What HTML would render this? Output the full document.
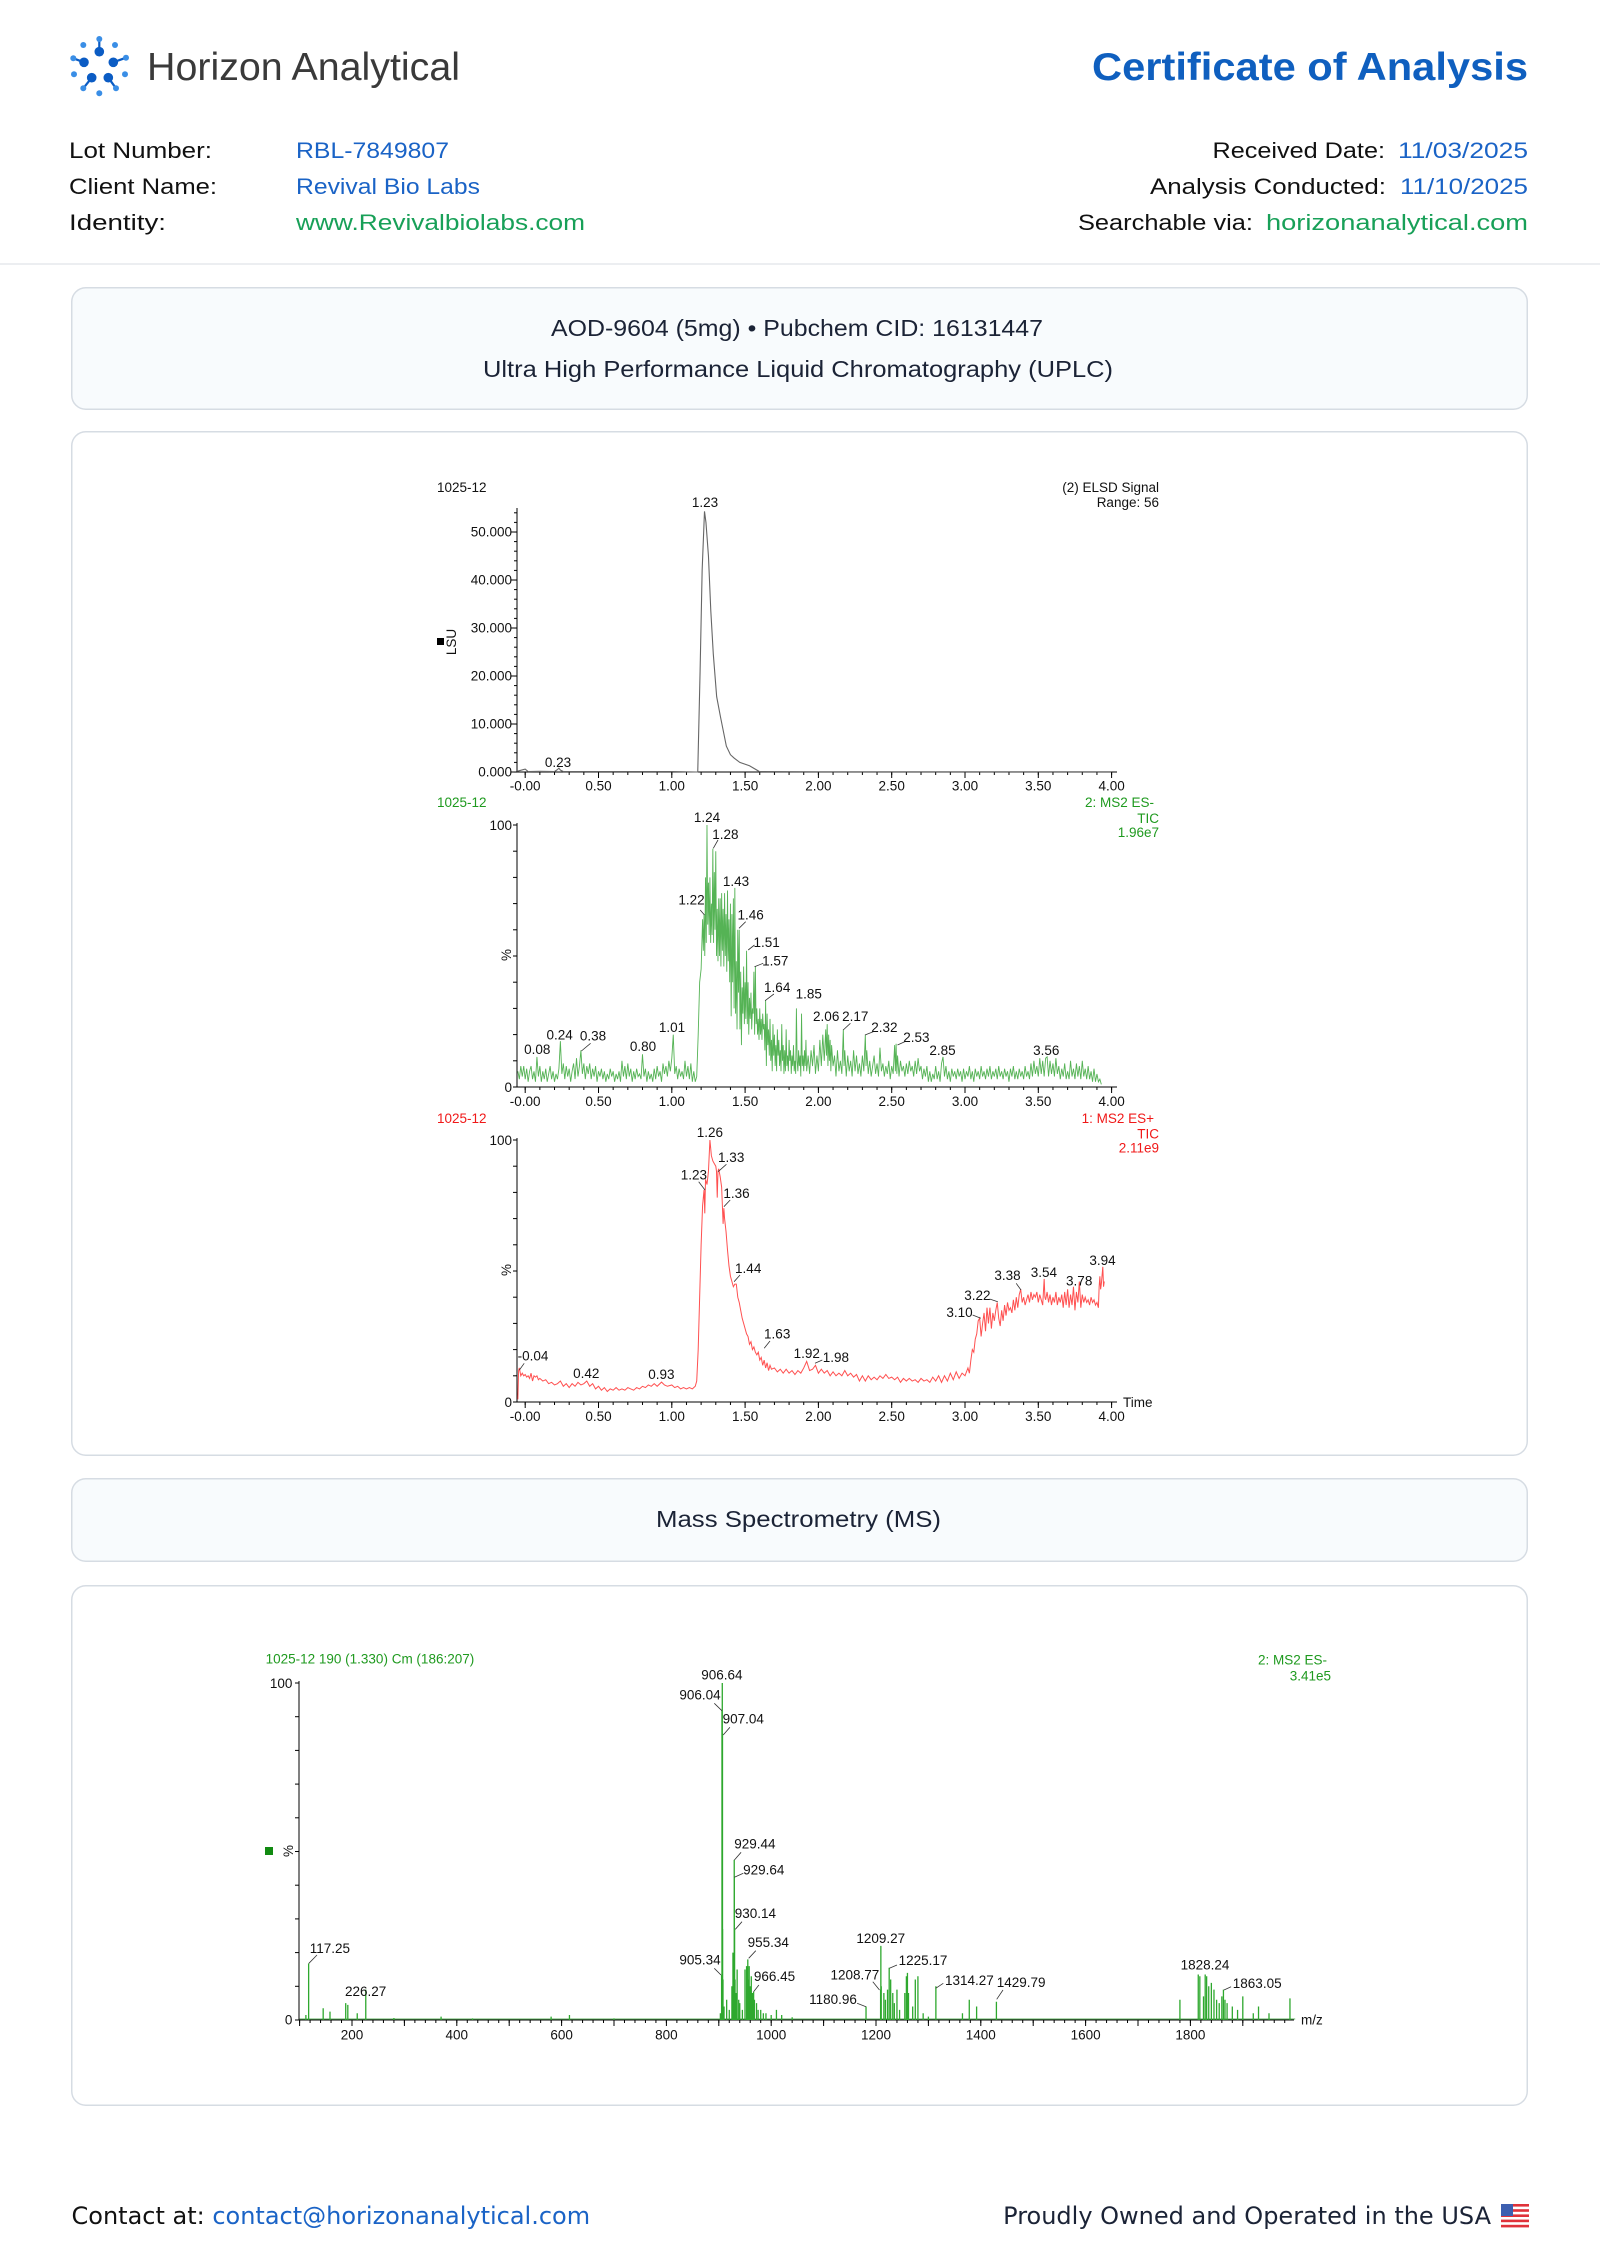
<!DOCTYPE html>
<html><head><meta charset="utf-8"><style>
html,body{margin:0;padding:0;background:#fff;}
body{width:1600px;height:2260px;overflow:hidden;position:relative;}
svg{position:absolute;left:0;top:0;}
.c{font-family:"Liberation Sans",Arial,sans-serif;font-size:13.5px;fill:#111;}
.g{fill:#1f9a1f;}
.r{fill:#f01818;}
</style></head><body>
<svg width="1600" height="2260" viewBox="0 0 1600 2260" xmlns="http://www.w3.org/2000/svg">
<defs>
<pattern id="cxm" x="524.7" y="0" width="14.66" height="10" patternUnits="userSpaceOnUse"><rect width="1" height="10" fill="#000"/></pattern>
<pattern id="cxM" x="524.7" y="0" width="73.3" height="10" patternUnits="userSpaceOnUse"><rect width="1" height="10" fill="#000"/></pattern>
<pattern id="ey" x="0" y="771.5" width="10" height="9.6" patternUnits="userSpaceOnUse"><rect width="10" height="1" fill="#000"/></pattern>
<pattern id="eyM" x="0" y="771.5" width="10" height="48" patternUnits="userSpaceOnUse"><rect width="10" height="1" fill="#000"/></pattern>
<pattern id="gy" x="0" y="1086.5" width="10" height="26.2" patternUnits="userSpaceOnUse"><rect width="10" height="1" fill="#000"/></pattern>
<pattern id="ry" x="0" y="1401.5" width="10" height="26.2" patternUnits="userSpaceOnUse"><rect width="10" height="1" fill="#000"/></pattern>
<pattern id="msx" x="299.1" y="0" width="10.48" height="10" patternUnits="userSpaceOnUse"><rect width="1" height="10" fill="#000"/></pattern>
<pattern id="msX" x="299.1" y="0" width="52.4" height="10" patternUnits="userSpaceOnUse"><rect width="1" height="10" fill="#000"/></pattern>
<pattern id="msy" x="0" y="2019.5" width="10" height="33.7" patternUnits="userSpaceOnUse"><rect width="10" height="1" fill="#000"/></pattern>
</defs>

<!-- ===== HEADER ===== -->
<g stroke="#0b5cc4" stroke-width="2.2">
<line x1="99.3" y1="39" x2="99.3" y2="51.7"/>
<line x1="73.3" y1="58.3" x2="84" y2="62.3"/>
<line x1="113.3" y1="62.3" x2="126" y2="57.7"/>
<line x1="91.7" y1="77.7" x2="83.3" y2="88.3"/>
<line x1="108.3" y1="77.7" x2="116" y2="88.3"/>
</g>
<g fill="#0b5cc4">
<circle cx="99.3" cy="51.7" r="4.8"/><circle cx="84" cy="62.3" r="4.8"/><circle cx="113.3" cy="62.3" r="4.8"/><circle cx="91.7" cy="77.7" r="4.8"/><circle cx="108.3" cy="77.7" r="4.8"/>
</g>
<g fill="#3a8ee6">
<circle cx="99.3" cy="39" r="3"/><circle cx="83.3" cy="45" r="3"/><circle cx="115" cy="45" r="3"/><circle cx="73.3" cy="58.3" r="3"/><circle cx="126" cy="57.7" r="3"/><circle cx="74" cy="74.3" r="3"/><circle cx="125" cy="74.3" r="3"/><circle cx="83.3" cy="88.3" r="3"/><circle cx="116" cy="88.3" r="3"/><circle cx="99.3" cy="93.3" r="3"/>
</g>
<text x="147" y="80" font-family="'Liberation Sans',Arial,sans-serif" font-size="39" fill="#3a3a3a" textLength="313" lengthAdjust="spacingAndGlyphs">Horizon Analytical</text>
<text x="1092" y="80" font-family="'Liberation Sans',Arial,sans-serif" font-size="39" font-weight="bold" fill="#0f5fbf" textLength="436" lengthAdjust="spacingAndGlyphs">Certificate of Analysis</text>

<g font-family="'Liberation Sans',Arial,sans-serif" font-size="22.5">
<text x="69" y="158" fill="#111" textLength="143" lengthAdjust="spacingAndGlyphs">Lot Number:</text>
<text x="296" y="158" fill="#1a63c6" textLength="153" lengthAdjust="spacingAndGlyphs">RBL-7849807</text>
<text x="69" y="194" fill="#111" textLength="148" lengthAdjust="spacingAndGlyphs">Client Name:</text>
<text x="296" y="194" fill="#1a63c6" textLength="184" lengthAdjust="spacingAndGlyphs">Revival Bio Labs</text>
<text x="69" y="230" fill="#111" textLength="97" lengthAdjust="spacingAndGlyphs">Identity:</text>
<text x="296" y="230" fill="#18a058" textLength="289" lengthAdjust="spacingAndGlyphs">www.Revivalbiolabs.com</text>
<text x="1212.5" y="158" fill="#111" textLength="172.5" lengthAdjust="spacingAndGlyphs">Received Date:</text>
<text x="1398" y="158" fill="#1a63c6" textLength="130" lengthAdjust="spacingAndGlyphs">11/03/2025</text>
<text x="1150" y="194" fill="#111" textLength="236" lengthAdjust="spacingAndGlyphs">Analysis Conducted:</text>
<text x="1400" y="194" fill="#1a63c6" textLength="128" lengthAdjust="spacingAndGlyphs">11/10/2025</text>
<text x="1078" y="230" fill="#111" textLength="175" lengthAdjust="spacingAndGlyphs">Searchable via:</text>
<text x="1266" y="230" fill="#18a058" textLength="262" lengthAdjust="spacingAndGlyphs">horizonanalytical.com</text>
</g>
<rect x="0" y="263" width="1600" height="2" fill="#eceef1"/>

<!-- ===== BOXES ===== -->
<rect x="71.75" y="287.75" width="1455.5" height="121.5" rx="14" fill="#f8fbfd" stroke="#d6dce3" stroke-width="1.5"/>
<g font-family="'Liberation Sans',Arial,sans-serif" font-size="23.5" fill="#1b2336">
<text x="551" y="336" textLength="492" lengthAdjust="spacingAndGlyphs">AOD-9604 (5mg) • Pubchem CID: 16131447</text>
<text x="483" y="377" textLength="630" lengthAdjust="spacingAndGlyphs">Ultra High Performance Liquid Chromatography (UPLC)</text>
</g>
<rect x="71.75" y="431.75" width="1455.5" height="1023.5" rx="14" fill="#fff" stroke="#d6dce3" stroke-width="1.5"/>
<rect x="71.75" y="1478.75" width="1455.5" height="82.5" rx="14" fill="#f8fbfd" stroke="#d6dce3" stroke-width="1.5"/>
<text x="656" y="1527" font-family="'Liberation Sans',Arial,sans-serif" font-size="23.5" fill="#1b2336" textLength="285" lengthAdjust="spacingAndGlyphs">Mass Spectrometry (MS)</text>
<rect x="71.75" y="1585.75" width="1455.5" height="519.5" rx="14" fill="#fff" stroke="#d6dce3" stroke-width="1.5"/>

<!-- ===== ELSD PANEL ===== -->
<g class="c">
<text x="437" y="492">1025-12</text>
<text x="1159" y="492" text-anchor="end">(2) ELSD Signal</text>
<text x="1159" y="507" text-anchor="end">Range: 56</text>
<text x="512" y="536.5" text-anchor="end">50.000</text>
<text x="512" y="584.5" text-anchor="end">40.000</text>
<text x="512" y="632.5" text-anchor="end">30.000</text>
<text x="512" y="680.5" text-anchor="end">20.000</text>
<text x="512" y="728.5" text-anchor="end">10.000</text>
<text x="512" y="776.5" text-anchor="end">0.000</text>
<text x="705" y="507" text-anchor="middle">1.23</text>
<text x="558" y="767" text-anchor="middle">0.23</text>
<text transform="translate(456,642) rotate(-90)" text-anchor="middle">LSU</text>
</g>
<rect x="437" y="638" width="7" height="7" fill="#000"/>
<path d="M517 508V772H1117" stroke="#000" stroke-width="1" fill="none"/>
<rect x="514" y="510" width="3" height="263" fill="url(#ey)"/>
<rect x="511" y="525" width="6" height="248" fill="url(#eyM)"/>
<rect x="517" y="772" width="596" height="3" fill="url(#cxm)"/>
<rect x="517" y="772" width="596" height="6" fill="url(#cxM)"/>
<g class="c">
<text x="525.2" y="790.5" text-anchor="middle">-0.00</text><text x="598.5" y="790.5" text-anchor="middle">0.50</text><text x="671.8" y="790.5" text-anchor="middle">1.00</text><text x="745.1" y="790.5" text-anchor="middle">1.50</text><text x="818.4" y="790.5" text-anchor="middle">2.00</text><text x="891.7" y="790.5" text-anchor="middle">2.50</text><text x="965" y="790.5" text-anchor="middle">3.00</text><text x="1038.3" y="790.5" text-anchor="middle">3.50</text><text x="1111.6" y="790.5" text-anchor="middle">4.00</text>
</g>
<g transform="translate(525.2,772) scale(146.6,-4.8)">
<polyline fill="none" stroke="#666" stroke-width="1.1" vector-effect="non-scaling-stroke" points="-0.05,0.2 0,0.6 0.02,0.1 0.1,0.15 0.2,0.1 0.22,0.5 0.23,0.8 0.24,0.4 0.26,0.1 0.5,0.1 1,0.1 1.17,0 1.177,0 1.193,21 1.207,42 1.223,54.3 1.233,52 1.25,45 1.266,33.6 1.283,24.6 1.306,15.7 1.332,11.5 1.372,5.4 1.4,3.6 1.425,2.9 1.464,2 1.53,1.3 1.597,0.1 2,0.05 4,0.05"/>
</g>

<!-- ===== GREEN PANEL ===== -->
<g class="c">
<text class="g" x="437" y="807">1025-12</text>
<text class="g" x="1154" y="807" text-anchor="end">2: MS2 ES-</text>
<text class="g" x="1159" y="823" text-anchor="end">TIC</text>
<text class="g" x="1159" y="837" text-anchor="end">1.96e7</text>
<text x="512" y="830" text-anchor="end">100</text>
<text x="512" y="1092" text-anchor="end">0</text>
<text transform="translate(511,955) rotate(-90)" text-anchor="middle">%</text>
</g>
<path d="M517 823V1087H1117" stroke="#000" stroke-width="1" fill="none"/>
<rect x="513" y="824" width="4" height="264" fill="url(#gy)"/>
<rect x="517" y="1087" width="596" height="3" fill="url(#cxm)"/>
<rect x="517" y="1087" width="596" height="6" fill="url(#cxM)"/>
<g transform="translate(525.2,1087) scale(146.6,-2.62)">
<polyline fill="none" stroke="#55b355" stroke-width="0.9" vector-effect="non-scaling-stroke" points="-0.05,6 -0.04,3 -0.03,8 -0.02,4 -0.01,8 0,3 0.01,7 0.02,2 0.03,6 0.04,8 0.05,3 0.06,6 0.07,2 0.08,11.5 0.09,4 0.1,8 0.11,2 0.12,6 0.13,3 0.14,7 0.15,2 0.16,5 0.17,8 0.18,3 0.19,6 0.2,2 0.21,5 0.22,3 0.23,7 0.24,17.5 0.25,5 0.26,9 0.27,3 0.28,8 0.29,4 0.3,7 0.31,2 0.32,6 0.33,9 0.34,3 0.35,11 0.36,4 0.37,8 0.38,14 0.39,5 0.4,9 0.41,3 0.42,8 0.43,5 0.44,9 0.45,3 0.46,7 0.47,4 0.48,8 0.49,2 0.5,6 0.51,4 0.52,7 0.53,3 0.54,6 0.55,2 0.56,5 0.57,3 0.58,7 0.59,4 0.6,6 0.61,2 0.62,5 0.63,3 0.64,6 0.65,2 0.66,10 0.67,4 0.68,8 0.69,3 0.7,9 0.71,4 0.72,7 0.73,2 0.74,6 0.75,3 0.76,7 0.77,4 0.78,5 0.79,3 0.8,12.5 0.81,4 0.82,7 0.83,2 0.84,6 0.85,3 0.86,5 0.87,2 0.88,7 0.89,3 0.9,8 0.91,4 0.92,6 0.93,2 0.94,9 0.95,5 0.96,8 0.97,4 0.98,10 0.99,6 1,11 1.01,20 1.02,5 1.03,8 1.04,3 1.05,7 1.06,4 1.07,6 1.08,3 1.09,10 1.1,4 1.11,8 1.12,3 1.13,9 1.14,2 1.15,6 1.16,2 1.17,4 1.18,20 1.19,40 1.2,45 1.21,64 1.215,52 1.22,66 1.225,50 1.23,80 1.235,55 1.24,100 1.245,62 1.25,78 1.255,58 1.26,80 1.265,55 1.27,70 1.275,58 1.28,91 1.285,55 1.29,82 1.295,60 1.3,90 1.305,50 1.31,68 1.315,48 1.32,72 1.325,50 1.33,72 1.335,46 1.34,74 1.345,52 1.35,68 1.355,46 1.36,74 1.365,50 1.37,66 1.375,44 1.38,75 1.385,48 1.39,64 1.395,40 1.4,70 1.405,27 1.41,66 1.415,40 1.42,72 1.425,30 1.43,76 1.435,28 1.44,48 1.445,22 1.45,60 1.455,36 1.46,60 1.465,22 1.47,44 1.475,16 1.48,38 1.485,28 1.49,46 1.495,24 1.5,40 1.505,26 1.51,52 1.515,24 1.52,40 1.525,20 1.53,34 1.535,26 1.54,36 1.545,22 1.55,30 1.555,28 1.56,44 1.565,20 1.57,46 1.575,24 1.58,30 1.585,20 1.59,26 1.595,18 1.6,30 1.605,20 1.61,26 1.615,18 1.62,28 1.625,22 1.63,24 1.635,14 1.64,33 1.645,8 1.65,28 1.655,16 1.66,22 1.665,12 1.67,26 1.675,10 1.68,18 1.685,6 1.69,24 1.695,12 1.7,20 1.705,8 1.71,16 1.715,6 1.72,22 1.725,12 1.73,18 1.735,8 1.74,14 1.745,6 1.75,24 1.755,10 1.76,16 1.765,5 1.77,14 1.775,6 1.78,22 1.785,8 1.79,12 1.795,6 1.8,18 1.805,10 1.81,14 1.815,5 1.82,12 1.825,8 1.83,16 1.835,6 1.84,10 1.845,5 1.85,30 1.855,10 1.86,6 1.865,14 1.87,8 1.875,12 1.88,4 1.885,28 1.89,8 1.895,12 1.9,6 1.905,14 1.91,8 1.915,18 1.92,6 1.93,12 1.94,5 1.95,14 1.96,8 1.97,16 1.98,5 1.99,12 2,6 2.01,18 2.02,8 2.03,20 2.04,10 2.05,22 2.055,12 2.06,24 2.065,8 2.07,20 2.075,10 2.08,18 2.085,6 2.09,16 2.1,8 2.11,12 2.12,4 2.13,14 2.14,6 2.15,10 2.16,5 2.17,22 2.175,8 2.18,14 2.19,4 2.2,12 2.21,6 2.22,10 2.23,4 2.24,14 2.25,6 2.26,12 2.27,5 2.28,9 2.29,4 2.3,12 2.31,6 2.32,20 2.325,8 2.33,14 2.34,5 2.35,10 2.36,4 2.37,8 2.38,12 2.39,5 2.4,9 2.41,4 2.42,15 2.43,6 2.44,9 2.45,4 2.46,8 2.47,5 2.48,10 2.49,3 2.5,8 2.51,5 2.52,16 2.525,6 2.53,16.5 2.535,5 2.54,12 2.55,4 2.56,10 2.57,6 2.58,8 2.59,4 2.6,9 2.61,5 2.62,10 2.63,6 2.64,8 2.65,4 2.66,10 2.67,5 2.68,11 2.69,6 2.7,8 2.71,3 2.72,7 2.73,4 2.74,8 2.75,2 2.76,6 2.77,2 2.78,5 2.79,3 2.8,8 2.81,3 2.82,6 2.83,2 2.84,9 2.85,11.5 2.86,4 2.87,8 2.88,3 2.89,6 2.9,2 2.91,7 2.92,4 2.93,6 2.94,3 2.95,7 2.96,4 2.97,6 2.98,2 2.99,7 3,3 3.01,6 3.02,4 3.03,8 3.04,3 3.05,6 3.06,2 3.07,7 3.08,4 3.09,6 3.1,3 3.11,8 3.12,4 3.13,6 3.14,3 3.15,7 3.16,4 3.17,8 3.18,3 3.19,6 3.2,4 3.21,7 3.22,3 3.23,8 3.24,4 3.25,6 3.26,3 3.27,7 3.28,4 3.29,6 3.3,2 3.31,7 3.32,4 3.33,8 3.34,3 3.35,6 3.36,3 3.37,7 3.38,4 3.39,6 3.4,3 3.41,8 3.42,4 3.43,6 3.44,3 3.45,9 3.46,4 3.47,10 3.48,5 3.49,8 3.5,4 3.51,11 3.52,5 3.53,10 3.54,4 3.55,11 3.56,11.5 3.57,4 3.58,10 3.59,5 3.6,9 3.61,4 3.62,11 3.63,5 3.64,8 3.65,3 3.66,7 3.67,4 3.68,9 3.69,3 3.7,6 3.71,3 3.72,10 3.73,4 3.74,7 3.75,3 3.76,9 3.77,4 3.78,8 3.79,3 3.8,10 3.81,4 3.82,7 3.83,3 3.84,8 3.85,3 3.86,6 3.87,2 3.88,7 3.89,2 3.9,5 3.91,2 3.92,3 3.93,1"/>
</g>
<g class="c" text-anchor="middle">
<text x="707" y="822">1.24</text><text x="725.4" y="839">1.28</text><text x="736" y="886">1.43</text><text x="691.5" y="904.5">1.22</text><text x="750.6" y="919.5">1.46</text><text x="766.6" y="947">1.51</text><text x="775.3" y="965.5">1.57</text><text x="777.2" y="992">1.64</text><text x="808.8" y="998.5">1.85</text><text x="826.2" y="1021">2.06</text><text x="855.3" y="1021">2.17</text><text x="884.4" y="1032">2.32</text><text x="916.4" y="1042">2.53</text><text x="942.5" y="1055">2.85</text><text x="1046.3" y="1055">3.56</text><text x="537.3" y="1054">0.08</text><text x="559.6" y="1039.5">0.24</text><text x="593" y="1040.5">0.38</text><text x="643" y="1051">0.80</text><text x="672" y="1032">1.01</text>
</g>
<path stroke="#333" stroke-width="0.8" fill="none" d="M718 840L713.3 848.3M745.7 921.7L739 928.3M754.5 945L748.2 950M763.2 963.3L754.5 966.7M773.9 994L765.1 1000.7M700.2 910L704.5 915M590.6 1043.3L581.4 1051M850.4 1023.3L843.2 1030M873.2 1031.7L865 1035M904.7 1041.7L897.5 1045"/>
<g class="c">
<text x="525.2" y="1106" text-anchor="middle">-0.00</text><text x="598.5" y="1106" text-anchor="middle">0.50</text><text x="671.8" y="1106" text-anchor="middle">1.00</text><text x="745.1" y="1106" text-anchor="middle">1.50</text><text x="818.4" y="1106" text-anchor="middle">2.00</text><text x="891.7" y="1106" text-anchor="middle">2.50</text><text x="965" y="1106" text-anchor="middle">3.00</text><text x="1038.3" y="1106" text-anchor="middle">3.50</text><text x="1111.6" y="1106" text-anchor="middle">4.00</text>
</g>

<!-- ===== RED PANEL ===== -->
<g class="c">
<text class="r" x="437" y="1123">1025-12</text>
<text class="r" x="1154" y="1123" text-anchor="end">1: MS2 ES+</text>
<text class="r" x="1159" y="1138.5" text-anchor="end">TIC</text>
<text class="r" x="1159" y="1152.5" text-anchor="end">2.11e9</text>
<text x="512" y="1145" text-anchor="end">100</text>
<text x="512" y="1407" text-anchor="end">0</text>
<text transform="translate(511,1270) rotate(-90)" text-anchor="middle">%</text>
<text x="1123" y="1407">Time</text>
</g>
<path d="M517 1138V1402H1117" stroke="#000" stroke-width="1" fill="none"/>
<rect x="513" y="1139" width="4" height="264" fill="url(#ry)"/>
<rect x="517" y="1402" width="596" height="3" fill="url(#cxm)"/>
<rect x="517" y="1402" width="596" height="6" fill="url(#cxM)"/>
<g transform="translate(525.2,1402) scale(146.6,-2.62)">
<polyline fill="none" stroke="#ff5050" stroke-width="1" vector-effect="non-scaling-stroke" points="-0.05,1 -0.045,12 -0.04,13 -0.03,10 -0.02,11 -0.01,10 0,10.5 0.01,9.5 0.02,10 0.03,9 0.04,11 0.05,8 0.06,10 0.07,9.5 0.08,10 0.09,8.5 0.1,9 0.12,8 0.14,8.5 0.16,7 0.18,7.5 0.2,6.5 0.22,7 0.24,8 0.26,6 0.28,7 0.3,5.5 0.32,7 0.34,6 0.36,7.5 0.38,6.5 0.4,7 0.42,8 0.44,6 0.46,7 0.48,5 0.5,6 0.52,4.5 0.54,5.5 0.56,4 0.58,5 0.6,4.5 0.62,5.5 0.64,4.5 0.66,5 0.68,4.5 0.7,5.5 0.72,5 0.74,4.5 0.76,5.5 0.78,5 0.8,6 0.82,5.5 0.84,6.5 0.86,6 0.88,7 0.9,6 0.93,7.6 0.95,6.5 0.97,6 1,6.5 1.02,5.5 1.04,6 1.06,5 1.08,5.5 1.1,5 1.12,5.5 1.14,5 1.16,6 1.17,8 1.18,20 1.19,40 1.2,60 1.21,75 1.22,81 1.225,72 1.23,85 1.24,83 1.25,88 1.26,100 1.27,94 1.28,92 1.29,91 1.3,90 1.305,88 1.31,78 1.315,88 1.32,89 1.33,86 1.34,82 1.345,75 1.35,68 1.355,74 1.36,70 1.37,65 1.38,58 1.39,52 1.4,48 1.41,46 1.42,44 1.43,45 1.44,45 1.45,40 1.46,38 1.47,35 1.48,32 1.49,30 1.5,28 1.51,26 1.52,25 1.53,22 1.54,23 1.55,20 1.56,21 1.57,19 1.58,18 1.59,19 1.6,16 1.61,17 1.62,14 1.63,16 1.64,13 1.65,15 1.66,12 1.67,14 1.68,12.5 1.7,13 1.72,11.5 1.74,12.5 1.76,11 1.78,12.5 1.8,11 1.82,12 1.84,10.5 1.86,12 1.88,11 1.9,13 1.92,15.5 1.94,12 1.96,12.5 1.98,14 2,11 2.02,12.5 2.04,11 2.06,12 2.08,10 2.1,11.5 2.12,10 2.14,11 2.16,10 2.18,12 2.2,10 2.22,11 2.24,9.5 2.26,10.5 2.28,8 2.3,10 2.32,8 2.34,10 2.36,8.5 2.38,9.5 2.4,8.5 2.42,10 2.44,9 2.46,10.5 2.48,9 2.5,9.5 2.52,8.5 2.54,9.5 2.56,7.5 2.58,9 2.6,8 2.62,9 2.64,8 2.66,8.5 2.68,7.5 2.7,9 2.72,8 2.74,8.5 2.76,7.5 2.78,9.5 2.8,8 2.82,10 2.84,7.5 2.86,10 2.88,8 2.9,11 2.92,8.5 2.94,11.5 2.96,9 2.98,11 3,10 3.02,13 3.03,11 3.04,16 3.05,20 3.06,19 3.07,24 3.08,26 3.09,31 3.1,32 3.11,25 3.12,30 3.13,34 3.14,27 3.15,36 3.16,30 3.17,36 3.18,28 3.19,34 3.2,31 3.21,35 3.22,38 3.23,32 3.24,29 3.25,35 3.26,31 3.27,37 3.28,33 3.29,38 3.3,35 3.31,36 3.32,34 3.33,39 3.34,35 3.35,40 3.36,36 3.37,41 3.38,43 3.39,38 3.4,40 3.41,37 3.42,39 3.43,41 3.44,38 3.45,42 3.46,39 3.47,41 3.48,40 3.49,42 3.5,38 3.51,41 3.52,39 3.53,37 3.54,47 3.545,40 3.55,39 3.56,42 3.57,38 3.58,41 3.59,37 3.6,40 3.61,38 3.62,42 3.63,37 3.64,40 3.65,38 3.66,41 3.67,36 3.68,42 3.69,37 3.7,43 3.71,36 3.72,41 3.73,37 3.74,44 3.75,35 3.76,42 3.77,38 3.78,46 3.79,36 3.8,41 3.81,38 3.82,40 3.83,38 3.84,39 3.85,37 3.86,40 3.87,38 3.88,39 3.89,37 3.9,38 3.91,36 3.915,44 3.92,48 3.925,43 3.93,45 3.94,51.6 3.945,44 3.95,46"/>
</g>
<g class="c" text-anchor="middle">
<text x="709.9" y="1137">1.26</text><text x="731.2" y="1162">1.33</text><text x="693.9" y="1179.5">1.23</text><text x="736.5" y="1198">1.36</text><text x="748.2" y="1273">1.44</text><text x="777.2" y="1338.5">1.63</text><text x="806.8" y="1358">1.92</text><text x="835.9" y="1362">1.98</text><text x="533" y="1360.5">-0.04</text><text x="586.3" y="1378">0.42</text><text x="661.4" y="1379">0.93</text><text x="959.5" y="1317">3.10</text><text x="977.4" y="1300">3.22</text><text x="1007.5" y="1280">3.38</text><text x="1043.9" y="1277">3.54</text><text x="1079.2" y="1285.5">3.78</text><text x="1102.5" y="1265">3.94</text>
</g>
<path stroke="#333" stroke-width="0.8" fill="none" d="M726.4 1164.3L718.1 1171.7M698.7 1181.7L705 1190M730.2 1200L723.9 1206.7M740 1275L734.1 1281.7M770 1341L764.2 1348.3M822.3 1360L815 1363.3M524.2 1363.3L519.4 1370M972.6 1315L980.8 1318.3M989.6 1299L997.8 1301.7M1016.2 1283.3L1021 1290"/>
<g class="c">
<text x="525.2" y="1421" text-anchor="middle">-0.00</text><text x="598.5" y="1421" text-anchor="middle">0.50</text><text x="671.8" y="1421" text-anchor="middle">1.00</text><text x="745.1" y="1421" text-anchor="middle">1.50</text><text x="818.4" y="1421" text-anchor="middle">2.00</text><text x="891.7" y="1421" text-anchor="middle">2.50</text><text x="965" y="1421" text-anchor="middle">3.00</text><text x="1038.3" y="1421" text-anchor="middle">3.50</text><text x="1111.6" y="1421" text-anchor="middle">4.00</text>
</g>

<!-- ===== MS SPECTRUM ===== -->
<g class="c">
<text class="g" x="265.6" y="1663.5">1025-12 190 (1.330) Cm (186:207)</text>
<text class="g" x="1327" y="1664.5" text-anchor="end">2: MS2 ES-</text>
<text class="g" x="1331" y="1680.5" text-anchor="end">3.41e5</text>
<text x="292.4" y="1688" text-anchor="end">100</text>
<text x="292.4" y="2024.5" text-anchor="end">0</text>
<text transform="translate(293,1851) rotate(-90)" text-anchor="middle">%</text>
<text x="1301" y="2024.5">m/z</text>
</g>
<rect x="265" y="1847" width="8" height="8" fill="#118a11"/>
<path d="M299 1681V2020H1294" stroke="#000" stroke-width="1" fill="none"/>
<rect x="295" y="1682" width="4" height="339" fill="url(#msy)"/>
<rect x="299" y="2020" width="995" height="3" fill="url(#msx)"/>
<rect x="299" y="2020" width="995" height="6" fill="url(#msX)"/>
<g transform="translate(247.2,2020) scale(0.524,-3.37)">
<path fill="none" stroke="#2d9e2d" stroke-width="0.8" vector-effect="non-scaling-stroke" d="M100 0.3H2000"/>
<path fill="none" stroke="#2ea82e" stroke-width="1.3" vector-effect="non-scaling-stroke" d="M112 0V1.5M117.25 0V16.8M145 0V3.5M158 0V2.5M188 0V5M192 0V4.5M210 0V2M226.27 0V9M280 0V0.6M370 0V1M430 0V0.5M580 0V1M615 0V1.5M700 0V0.5M903 0V2M905.34 0V13.4M906.04 0V92M906.64 0V100M907.04 0V85M907.3 0V27M908 0V12M910 0V4M915 0V6M920 0V3M925 0V10M927 0V20M929.44 0V47.5M929.64 0V42.6M930.14 0V27M931 0V12M933 0V8M935 0V15M938 0V6M940 0V5M945 0V3M950 0V15M953 0V16M955.34 0V18M957 0V12M958 0V16M960 0V10M962 0V13M964 0V8M966.45 0V8.4M968 0V6M972 0V5M975 0V3M980 0V3M985 0V2M990 0V2M1000 0V1.5M1010 0V3M1020 0V1.5M1040 0V0.8M1180.96 0V4M1208.77 0V9M1209.27 0V22M1210 0V10M1215 0V8M1218 0V6M1222 0V9M1225.17 0V15.5M1228 0V12M1232 0V8M1235 0V5M1240 0V9M1245 0V3M1255 0V8M1258 0V13M1260 0V14M1262 0V8M1270 0V4M1275 0V12M1280 0V13M1290 0V2M1300 0V1M1314.27 0V10M1365 0V2M1378 0V6M1392 0V4M1429.79 0V5.4M1780 0V6M1815 0V13.5M1818 0V13M1825 0V7M1828.24 0V13.5M1831 0V13M1835 0V10M1840 0V11M1845 0V9M1850 0V6M1855 0V5M1860 0V7M1863.05 0V9M1866 0V6M1870 0V5M1880 0V4M1890 0V3M1900 0V7M1920 0V2M1930 0V4M1950 0V2M1990 0V6.4"/>
</g>
<g class="c" text-anchor="middle">
<text x="721.9" y="1679.5">906.64</text><text x="700" y="1699.5">906.04</text><text x="743.3" y="1723.5">907.04</text><text x="754.9" y="1848.5">929.44</text><text x="763.8" y="1874.5">929.64</text><text x="755.4" y="1918">930.14</text><text x="768.3" y="1947">955.34</text><text x="700" y="1964.5">905.34</text><text x="774.5" y="1981">966.45</text><text x="329.9" y="1953">117.25</text><text x="365.6" y="1996">226.27</text><text x="880.8" y="1943">1209.27</text><text x="854.9" y="1979.5">1208.77</text><text x="833" y="2004">1180.96</text><text x="923" y="1965">1225.17</text><text x="969.4" y="1985">1314.27</text><text x="1021.1" y="1987">1429.79</text><text x="1205" y="1969.5">1828.24</text><text x="1257.2" y="1988">1863.05</text>
</g>
<path stroke="#333" stroke-width="0.8" fill="none" d="M714.3 1703.3L721.9 1710.7M729.9 1727.3L723.2 1735M741.1 1852.3L734.4 1860M743.3 1873.3L734.4 1877.3M742 1921.7L735.3 1929.3M755.8 1950.7L748.7 1958.3M714.3 1968.3L721 1975M758.9 1985L753.6 1991.7M317 1955L308.9 1963.3M857.1 2003.3L866 2006.7M872.8 1981.7L879.5 1990M897 1965L889.4 1968.3M943.3 1983.3L935.7 1988.3M1003 1990L996.7 1999.3M1231.1 1986.7L1224 1990"/>
<g class="c" text-anchor="middle">
<text x="352" y="2039.5">200</text><text x="456.8" y="2039.5">400</text><text x="561.6" y="2039.5">600</text><text x="666.4" y="2039.5">800</text><text x="771.2" y="2039.5">1000</text><text x="876" y="2039.5">1200</text><text x="980.8" y="2039.5">1400</text><text x="1085.6" y="2039.5">1600</text><text x="1190.4" y="2039.5">1800</text>
</g>

<!-- ===== FOOTER ===== -->
<g font-family="'DejaVu Sans','Liberation Sans',sans-serif" font-size="24">
<text x="71.5" y="2224" fill="#111">Contact at: <tspan fill="#1a63c6">contact@horizonanalytical.com</tspan></text>
<text x="1491" y="2224" fill="#1b2336" text-anchor="end">Proudly Owned and Operated in the USA</text>
</g>
<g>
<rect x="1501" y="2204" width="28" height="24" fill="#fff"/>
<rect x="1501" y="2204" width="28" height="2.6" fill="#e0323a"/>
<rect x="1501" y="2209.2" width="28" height="2.6" fill="#e0323a"/>
<rect x="1501" y="2214.4" width="28" height="2.6" fill="#e0323a"/>
<rect x="1501" y="2219.6" width="28" height="2.6" fill="#e0323a"/>
<rect x="1501" y="2224.8" width="28" height="2.6" fill="#e0323a"/>
<rect x="1501" y="2204" width="12" height="12" fill="#3d5fb0"/>
</g>
</svg>
</body></html>
